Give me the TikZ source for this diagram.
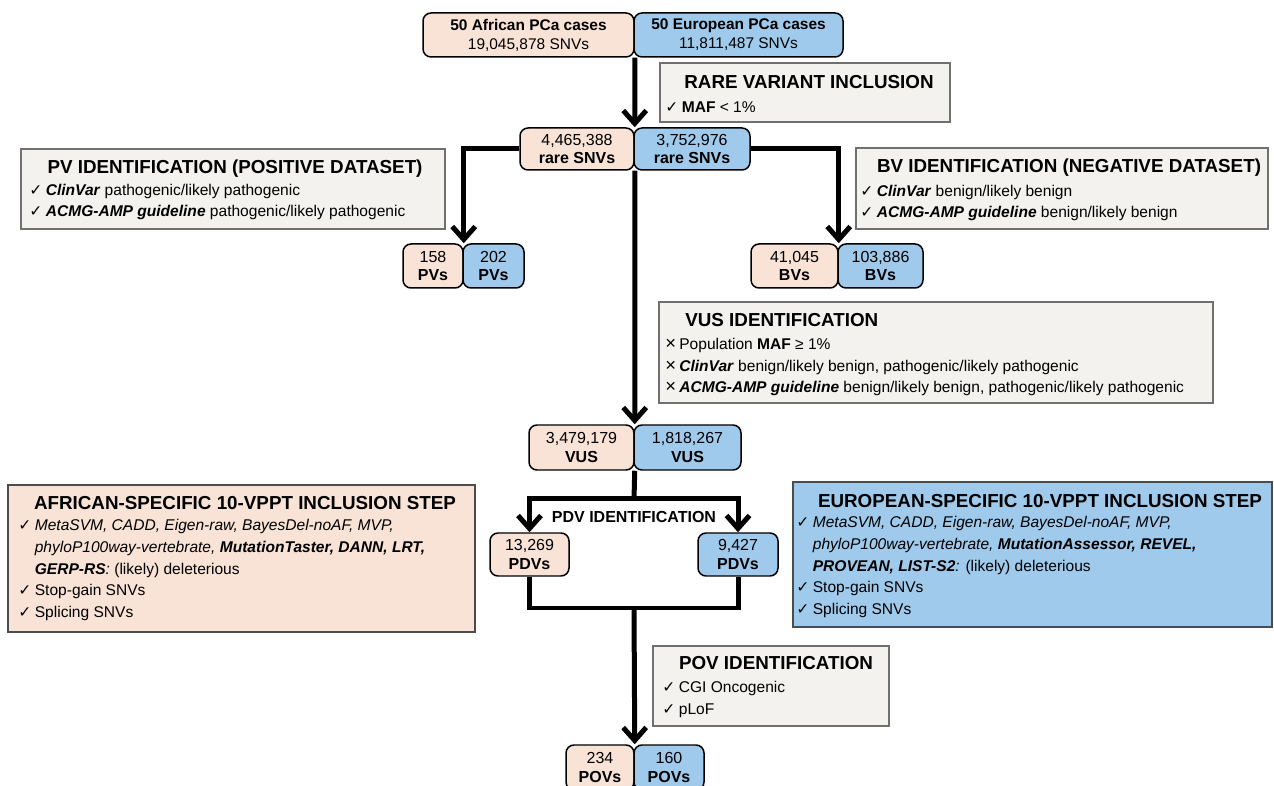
\documentclass[tikz,border=0pt]{standalone}
\usepackage{fontspec}
\setmainfont{Liberation Sans}
\newfontfamily\symfont{DejaVu Sans}
\usetikzlibrary{arrows.meta}

\definecolor{afrfill}{HTML}{F8E3D6}
\definecolor{eurfill}{HTML}{A0CAEC}
\definecolor{boxfill}{HTML}{F3F2EE}
\definecolor{boxline}{HTML}{707070}

\newcommand{\ck}{\makebox[3.3mm][l]{\symfont ✓}}
\newcommand{\cx}{\makebox[2.8mm][l]{\fontsize{10.5pt}{12.5pt}\selectfont ×}}
\newcommand{\ind}{\hspace*{3.3mm}}
\newcommand{\bodyfont}{\fontsize{8.85pt}{12.5pt}\selectfont}
\newcommand{\numfont}{\fontsize{9.1pt}{10.8pt}\selectfont}
\newcommand{\titlefont}{\fontsize{10.7pt}{13pt}\selectfont\bfseries}

\begin{document}
\begin{tikzpicture}[x=0.02cm,y=-0.02cm]
\tikzstyle{sz}=[minimum width=#1*0.02cm]
\tikzstyle{ht}=[minimum height=#1*0.02cm]
\tikzstyle{afr}=[draw=black,fill=afrfill,rounded corners=1.6mm,line width=0.85pt,inner sep=0pt,align=center,font=\numfont]
\tikzstyle{eur}=[afr,fill=eurfill]
\tikzstyle{info}=[draw=boxline,fill=boxfill,line width=0.6pt,inner sep=0pt]
\tikzstyle{infoA}=[info,draw=black!70,fill=afrfill]
\tikzstyle{infoE}=[info,draw=black!70,fill=eurfill]
\tikzstyle{ttl}=[inner sep=0pt,font=\titlefont]
\tikzstyle{lst}=[inner sep=0pt,anchor=west,align=left,font=\bodyfont]
\tikzstyle{line}=[line width=1mm]
\tikzstyle{flow}=[line,-{Straight Barb[length=2.6mm,width=4.6mm]}]

\useasboundingbox (0,0) rectangle (1274,786);

\node[info,sz=290,ht=59] (rareB) at (805,92.5) {};
\node[ttl] (rareT) at (809,82) {RARE VARIANT INCLUSION};
\node[lst] (rareL) at (665,107) {\ck\textbf{MAF} < 1\%};

\node[info,sz=424,ht=80] (pvB) at (233,189) {};
\node[ttl] (pvT) at (235,169) {PV IDENTIFICATION (POSITIVE DATASET)};
\node[lst] (pvL) at (29,202) {\ck\textbf{\textit{ClinVar}} pathogenic/likely pathogenic\\
\ck\textbf{\textit{ACMG-AMP guideline}} pathogenic/likely pathogenic};

\node[info,sz=412,ht=81] (bvB) at (1062,188.5) {};
\node[ttl] (bvT) at (1069,168) {BV IDENTIFICATION (NEGATIVE DATASET)};
\node[lst] (bvL) at (860,203) {\ck\textbf{\textit{ClinVar}} benign/likely benign\\
\ck\textbf{\textit{ACMG-AMP guideline}} benign/likely benign};

\node[info,sz=554,ht=101] (vusB) at (936,352.5) {};
\node[ttl,anchor=west] (vusT) at (685,320) {VUS IDENTIFICATION};
\node[lst] (vusL) at (665,367) {\cx Population \textbf{MAF} ≥ 1\%\\
\cx\textbf{\textit{ClinVar}} benign/likely benign, pathogenic/likely pathogenic\\
\cx\textbf{\textit{ACMG-AMP guideline}} benign/likely benign, pathogenic/likely pathogenic};

\node[infoA,sz=467,ht=147] (afrB) at (241.5,558.5) {};
\node[ttl] (afrT) at (245,503) {AFRICAN-SPECIFIC 10-VPPT INCLUSION STEP};
\node[lst] (afrL) at (18,570) {\ck\textit{MetaSVM, CADD, Eigen-raw, BayesDel-noAF, MVP,}\\
\ind\textit{phyloP100way-vertebrate,} \textbf{\textit{MutationTaster, DANN, LRT,}}\\
\ind\textbf{\textit{GERP-RS}}\textit{:} (likely) deleterious\\
\ck Stop-gain SNVs\\
\ck Splicing SNVs};

\node[infoE,sz=479,ht=145] (eurB) at (1032.5,554.5) {};
\node[ttl] (eurT) at (1040,501) {EUROPEAN-SPECIFIC 10-VPPT INCLUSION STEP};
\node[lst] (eurL) at (796,567) {\ck\textit{MetaSVM, CADD, Eigen-raw, BayesDel-noAF, MVP,}\\
\ind\textit{phyloP100way-vertebrate,} \textbf{\textit{MutationAssessor, REVEL,}}\\
\ind\textbf{\textit{PROVEAN, LIST-S2}}\textit{:} (likely) deleterious\\
\ck Stop-gain SNVs\\
\ck Splicing SNVs};

\node[info,sz=236,ht=80] (povB) at (771,686) {};
\node[ttl] (povT) at (776,663) {POV IDENTIFICATION};
\node[lst] (povL) at (662,699.5) {\ck CGI Oncogenic\\
\ck pLoF};

\node[afr,sz=211,ht=44,font=\fontsize{8.8pt}{10.8pt}\selectfont] (topA) at (528.5,35) {\textbf{50 African PCa cases}\\19,045,878 SNVs};
\node[eur,sz=209,ht=44,font=\fontsize{8.8pt}{10.8pt}\selectfont] (topE) at (738.5,35) {\textbf{50 European PCa cases}\\11,811,487 SNVs};
\node[afr,sz=114,ht=42] (rareA) at (577,149) {4,465,388\\\textbf{rare SNVs}};
\node[eur,sz=116,ht=42] (rareE) at (692,149) {3,752,976\\\textbf{rare SNVs}};
\node[afr,sz=60,ht=44] (pvA) at (433,266) {158\\\textbf{PVs}};
\node[eur,sz=61,ht=44] (pvE) at (493.5,266) {202\\\textbf{PVs}};
\node[afr,sz=87,ht=44] (bvA) at (794.5,266) {41,045\\\textbf{BVs}};
\node[eur,sz=85,ht=44] (bvE) at (880.5,266) {103,886\\\textbf{BVs}};
\node[afr,sz=105,ht=45] (vusA) at (581.5,447.5) {3,479,179\\\textbf{VUS}};
\node[eur,sz=107,ht=45] (vusE) at (687.5,447.5) {1,818,267\\\textbf{VUS}};
\node[afr,sz=79,ht=43] (pdvA) at (529.5,554.5) {13,269\\\textbf{PDVs}};
\node[eur,sz=80,ht=43] (pdvE) at (738,554.5) {9,427\\\textbf{PDVs}};
\node[afr,sz=68,ht=45] (povA) at (600,767.5) {234\\\textbf{POVs}};
\node[eur,sz=70,ht=45] (povE) at (669,767.5) {160\\\textbf{POVs}};
\node[inner sep=0pt,font=\numfont\bfseries] (pdvT) at (634,517) {PDV IDENTIFICATION};

\coordinate (split) at (634,499);
\coordinate (join) at (634,608);

\draw[flow] (topA.south east) -- (rareA.north east);
\draw[flow] (rareA.west) -| (pvA.north east);
\draw[flow] (rareE.east) -| (bvA.north east);
\draw[flow] (rareA.south east) -- (vusA.north east);
\draw[line] (vusA.south east) -- (split);
\draw[flow] (split) -| (pdvA.north);
\draw[flow] (split) -| (pdvE.north);
\draw[line] (pdvA.south) |- (join) -| (pdvE.south);
\draw[flow] (join) -- (povA.north east);
\end{tikzpicture}
\end{document}
